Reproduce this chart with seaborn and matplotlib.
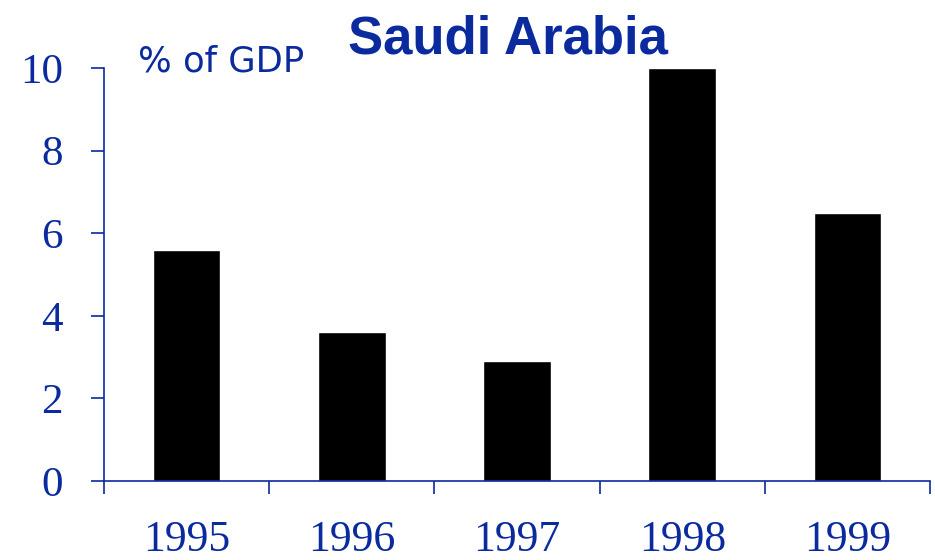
import matplotlib
matplotlib.use('Agg')
import matplotlib.pyplot as plt
import seaborn as sns
import pandas as pd

years = ['1995', '1996', '1997', '1998', '1999']
share_of_gdp = [5.6, 3.6, 2.9, 10.0, 6.5]
y_ticks = [0, 2, 4, 6, 8, 10]

blue = '#0A2A9E'

sns.set_style('white')
df = pd.DataFrame({'year': years, 'value': share_of_gdp})

fig = plt.figure(figsize=(9.35, 5.6), dpi=100)
ax = fig.add_axes([104 / 935, 1 - 481 / 560, (930 - 104) / 935, (481 - 68) / 560])

sns.barplot(data=df, x='year', y='value', color='black', width=0.41,
            saturation=1, ax=ax)

ax.set_xlim(-0.5, len(years) - 0.5)
ax.set_ylim(0, 10)
ax.set_yticks(y_ticks)
ax.set_xlabel('')
ax.set_ylabel('')

for side in ['top', 'right']:
    ax.spines[side].set_visible(False)
for side in ['left', 'bottom']:
    ax.spines[side].set_color(blue)
    ax.spines[side].set_linewidth(1.2)

serif = ['Liberation Serif', 'DejaVu Serif']
ax.tick_params(axis='y', which='major', left=True, direction='out', length=9.5,
               width=1.2, color=blue, pad=20, labelcolor=blue, labelsize=31)
for lab in ax.get_yticklabels():
    lab.set_family(serif)

# category labels sit under centres, boundary ticks between categories
ax.set_xticks(range(len(years)))
ax.set_xticklabels(years)
ax.set_xticks([i - 0.5 for i in range(len(years) + 1)], minor=True)
ax.tick_params(axis='x', which='major', bottom=True, length=0, pad=28,
               labelcolor=blue, labelsize=31.5)
ax.tick_params(axis='x', which='minor', bottom=True, direction='out', length=9,
               width=1.2, color=blue)
for lab in ax.get_xticklabels():
    lab.set_family(serif)

fig.text(508 / 935, 1 - 40 / 560, 'Saudi Arabia', ha='center', va='center',
         fontsize=38, fontweight='bold', color=blue,
         family=['Liberation Sans', 'DejaVu Sans'])
fig.text(138 / 935, 1 - 62 / 560, '% of GDP', ha='left', va='center',
         fontsize=25.5, color=blue, family=['DejaVu Sans'])

fig.savefig('out.png', dpi=100, facecolor='white')
